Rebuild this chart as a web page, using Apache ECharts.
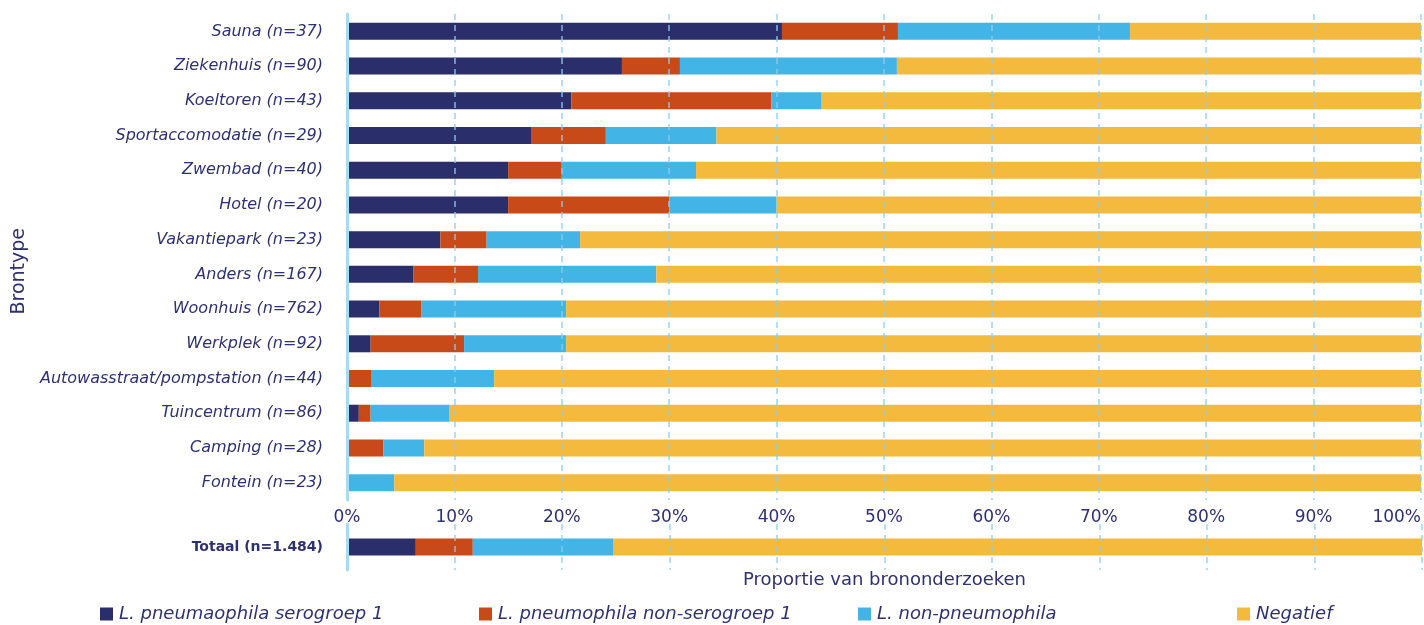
<!DOCTYPE html>
<html>
<head>
<meta charset="utf-8">
<script src="https://cdn.jsdelivr.net/npm/echarts@6/dist/echarts.min.js"></script>
<style>
html, body { margin: 0; padding: 0; background: #ffffff; }
#Chart { width: 1424px; height: 625px; }
</style>
</head>
<body>
<div id="Chart"></div>
<script>
// categories, top to bottom
var categories = ['Sauna (n=37)', 'Ziekenhuis (n=90)', 'Koeltoren (n=43)', 'Sportaccomodatie (n=29)',
    'Zwembad (n=40)', 'Hotel (n=20)', 'Vakantiepark (n=23)', 'Anders (n=167)', 'Woonhuis (n=762)',
    'Werkplek (n=92)', 'Autowasstraat/pompstation (n=44)', 'Tuincentrum (n=86)', 'Camping (n=28)', 'Fontein (n=23)'];
var seriesNames = ['L. pneumaophila serogroep 1', 'L. pneumophila non-serogroep 1', 'L. non-pneumophila', 'Negatief'];

// percentages
var sg1    = [40.5, 25.6, 20.9, 17.2, 15.0, 15.0, 8.7, 6.2, 3.0, 2.2, 0, 1.1, 0, 0];
var nonSg1 = [10.8, 5.4, 18.6, 6.9, 5.0, 15.0, 4.3, 6.0, 3.9, 8.7, 2.3, 1.1, 3.4, 0];
var nonPn  = [21.6, 20.2, 4.7, 10.3, 12.5, 10.0, 8.7, 16.6, 13.5, 9.5, 11.4, 7.3, 3.8, 4.4];
var neg    = [27.1, 48.8, 55.8, 65.6, 67.5, 60.0, 78.3, 71.2, 79.6, 79.6, 86.3, 90.5, 92.8, 95.6];

var totalCategory = ['Totaal (n=1.484)'];
var totalValues = [6.4, 5.3, 13.1, 75.2];

var xTicks = [0, 10, 20, 30, 40, 50, 60, 70, 80, 90, 100];

var colors = ['#2a2e6b', '#c84a19', '#42b4e6', '#f4ba3e'];
var textColor = '#2e3170';
var fontFamily = '"DejaVu Sans", sans-serif';

var Chart = echarts.init(document.getElementById('Chart'));

function makeXAxis(gridIndex, showLabels) {
    return {
        type: 'value',
        gridIndex: gridIndex,
        min: xTicks[0],
        max: xTicks[xTicks.length - 1],
        interval: 10,
        z: 5,
        axisLine: { show: false },
        axisTick: { show: false },
        axisLabel: {
            show: showLabels,
            formatter: '{value}%',
            color: textColor,
            fontSize: 17,
            fontFamily: fontFamily,
            margin: 9,
            alignMaxLabel: 'right'
        },
        splitLine: {
            show: true,
            lineStyle: { color: 'rgba(140, 205, 238, 0.65)', width: 2, type: [6, 5] }
        }
    };
}

function makeYAxis(gridIndex, data, bold) {
    return {
        type: 'category',
        gridIndex: gridIndex,
        data: data,
        inverse: true,
        z: 6,
        axisLine: { show: true, lineStyle: { color: '#a6dbf2', width: 3 } },
        axisTick: { show: false },
        axisLabel: {
            color: textColor,
            fontSize: bold ? 14 : 16,
            fontStyle: bold ? 'normal' : 'italic',
            fontWeight: bold ? 'bold' : 'normal',
            fontFamily: fontFamily,
            margin: 24
        }
    };
}

var mainData = [sg1, nonSg1, nonPn, neg];
var series = [];
for (var i = 0; i < seriesNames.length; i++) {
    series.push({
        name: seriesNames[i],
        type: 'bar',
        stack: 'main',
        xAxisIndex: 0,
        yAxisIndex: 0,
        barWidth: 17,
        itemStyle: { color: colors[i] },
        data: mainData[i]
    });
}
for (var i = 0; i < seriesNames.length; i++) {
    series.push({
        name: seriesNames[i],
        type: 'bar',
        stack: 'total',
        xAxisIndex: 1,
        yAxisIndex: 1,
        barWidth: 17,
        itemStyle: { color: colors[i] },
        data: [totalValues[i]]
    });
}

var legendLeft = [100, 479, 858, 1237];
var legends = [];
for (var i = 0; i < seriesNames.length; i++) {
    legends.push({
        data: [seriesNames[i]],
        left: legendLeft[i],
        top: 605,
        padding: 0,
        icon: 'rect',
        itemWidth: 13,
        itemHeight: 13,
        itemGap: 0,
        selectedMode: false,
        textStyle: {
            color: textColor,
            fontSize: 18,
            fontStyle: 'italic',
            fontFamily: fontFamily,
            padding: [0, 0, 0, 1]
        }
    });
}

var xAxisMain = makeXAxis(0, true);
var xAxisTotal = makeXAxis(1, false);
xAxisTotal.name = 'Proportie van brononderzoeken';
xAxisTotal.nameLocation = 'middle';
xAxisTotal.nameGap = 1;
xAxisTotal.nameTextStyle = { color: textColor, fontSize: 18, fontFamily: fontFamily, verticalAlign: 'top' };

var option = {
    backgroundColor: '#ffffff',
    animation: false,
    grid: [
        { left: 347, right: 2, top: 14, height: 486 },
        { left: 347, right: 2, top: 524, height: 46 }
    ],
    xAxis: [xAxisMain, xAxisTotal],
    yAxis: [makeYAxis(0, categories, false), makeYAxis(1, totalCategory, true)],
    legend: legends,
    graphic: [{
        type: 'text',
        left: 10,
        top: 228,
        rotation: Math.PI / 2,
        style: {
            text: 'Brontype',
            fill: textColor,
            fontSize: 19,
            fontFamily: fontFamily
        }
    }],
    series: series
};

Chart.setOption(option);
</script>
</body>
</html>
